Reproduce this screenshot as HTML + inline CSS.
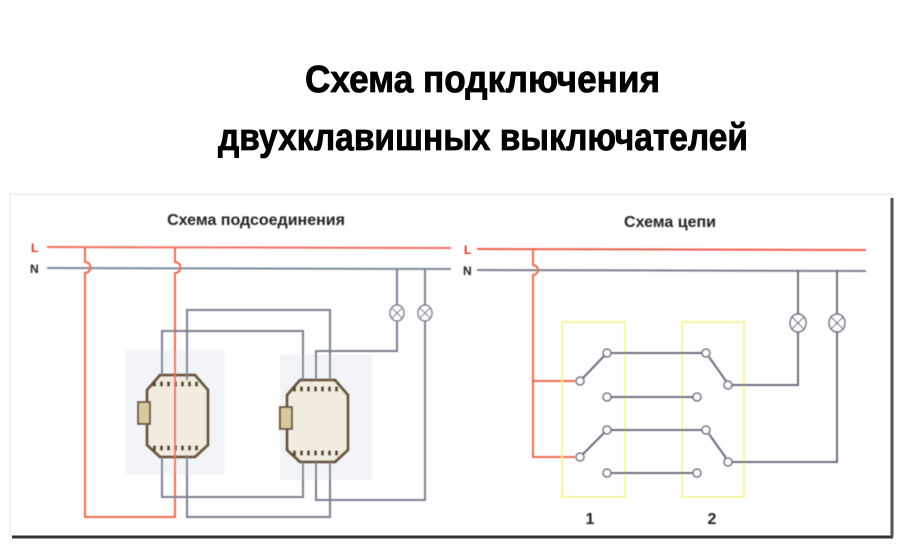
<!DOCTYPE html>
<html><head><meta charset="utf-8"><style>
html,body{margin:0;padding:0;background:#fff;width:900px;height:556px;overflow:hidden}
svg{display:block}
text{font-family:"Liberation Sans",sans-serif;font-weight:bold}
</style></head><body>
<svg width="900" height="556" viewBox="0 0 900 556" xmlns="http://www.w3.org/2000/svg">
<defs>
<filter id="bl" x="-10%" y="-10%" width="120%" height="120%"><feGaussianBlur stdDeviation="0.6"/></filter>
</defs>
<!-- title -->
<text x="305" y="92" font-size="38" textLength="355" lengthAdjust="spacingAndGlyphs" fill="#000" stroke="#000" stroke-width="0.8">Схема подключения</text>
<text x="218" y="150" font-size="38" textLength="530" lengthAdjust="spacingAndGlyphs" fill="#000" stroke="#000" stroke-width="0.8">двухклавишных выключателей</text>

<!-- panel -->
<rect x="10" y="194" width="882" height="342" fill="#fff" stroke="#e4e4e4" stroke-width="1"/>
<line x1="12" y1="537" x2="893" y2="537" stroke="#333" stroke-width="3"/>
<line x1="892" y1="198" x2="892" y2="537" stroke="#555" stroke-width="3"/>

<g filter="url(#bl)">
<!-- LEFT -->
<text x="256" y="225" font-size="16" text-anchor="middle" fill="#222">Схема подсоединения</text>
<text x="31" y="252" font-size="12" fill="#e83020">L</text>
<text x="30" y="273" font-size="12" fill="#222">N</text>
<line x1="47" y1="247" x2="451" y2="248" stroke="#f07060" stroke-width="2"/>
<line x1="47" y1="268" x2="451" y2="269" stroke="#7a8a9a" stroke-width="2"/>

<!-- switch plates -->
<rect x="125" y="350" width="100" height="125" fill="#f3f4f8"/>
<rect x="280" y="355" width="92" height="125" fill="#f3f4f8"/>
<polygon points="160,375 195,375 208,390 208,445 195,457 160,457 147,445 147,390" fill="#f1ebe0" stroke="#6b5536" stroke-width="3"/>
<polygon points="300,380 335,380 348,395 348,450 335,462 300,462 287,450 287,395" fill="#f1ebe0" stroke="#6b5536" stroke-width="3"/>
<g stroke="#5a4528" stroke-width="5" stroke-dasharray="3,4">
<line x1="153" y1="384" x2="202" y2="384"/><line x1="153" y1="448" x2="202" y2="448"/>
<line x1="293" y1="389" x2="342" y2="389"/><line x1="293" y1="453" x2="342" y2="453"/>
</g>
<rect x="138" y="402" width="12" height="22" fill="#d9c9a0" stroke="#6b5536" stroke-width="2"/>
<rect x="280" y="407" width="12" height="22" fill="#d9c9a0" stroke="#6b5536" stroke-width="2"/>

<!-- red wires -->
<path d="M85,247 V262 a5,5 0 0 1 0,11 V517 H175 V273 a5,5 0 0 0 0,-11 V247" fill="none" stroke="#f06a50" stroke-width="2"/>
<!-- gray wires -->
<path d="M187,380 V310 H330 V380 M187,455 V517 H330 V462" fill="none" stroke="#7a8090" stroke-width="2"/>
<path d="M162,375 V331 H303 V380 M162,457 V497 H303 V462" fill="none" stroke="#7a8090" stroke-width="2"/>
<path d="M397,268 V305 M397,321 V351 H316 V380" fill="none" stroke="#7a8090" stroke-width="2"/>
<path d="M425,268 V305 M425,321 V500 H316 V462" fill="none" stroke="#7a8090" stroke-width="2"/>
<g fill="#fff" stroke="#7a8090" stroke-width="1.5">
<ellipse cx="397" cy="313" rx="7" ry="8"/><ellipse cx="425" cy="313" rx="7" ry="8"/>
</g>
<path d="M392,308 l10,10 M402,308 l-10,10 M420,308 l10,10 M430,308 l-10,10" stroke="#7a8090" stroke-width="1.2"/>

<!-- RIGHT -->
<text x="670" y="227" font-size="16" text-anchor="middle" fill="#222">Схема цепи</text>
<text x="464" y="254" font-size="12" fill="#e83020">L</text>
<text x="463" y="275" font-size="12" fill="#222">N</text>
<line x1="477" y1="249" x2="866" y2="250" stroke="#f06050" stroke-width="2"/>
<line x1="477" y1="270" x2="866" y2="271" stroke="#7a8090" stroke-width="2"/>
<path d="M533,249 V265 a5,5 0 0 1 0,10 V457 H575 M533,381 H575" fill="none" stroke="#f06a50" stroke-width="2"/>
<rect x="562" y="322" width="63" height="175" fill="none" stroke="#f4f080" stroke-width="1.5"/>
<rect x="682" y="322" width="62" height="175" fill="none" stroke="#f4f080" stroke-width="1.5"/>
<g stroke="#6a7080" stroke-width="2" fill="none">
<path d="M610,353 H702 M610,397 H693 M610,430 H702 M610,473 H693"/>
<path d="M583,378 L604,356 M583,454 L604,433"/>
<path d="M709,357 L726,381 M709,434 L726,458"/>
<path d="M732,385 H798 V331 M798,315 V270"/>
<path d="M732,462 H837 V331 M837,315 V270"/>
</g>
<g fill="#fff" stroke="#6a7080" stroke-width="1.5">
<circle cx="580" cy="381" r="4"/><circle cx="607" cy="353" r="4"/><circle cx="607" cy="397" r="4"/>
<circle cx="580" cy="457" r="4"/><circle cx="607" cy="430" r="4"/><circle cx="607" cy="473" r="4"/>
<circle cx="706" cy="353" r="4"/><circle cx="697" cy="397" r="4"/><circle cx="728" cy="385" r="4"/>
<circle cx="706" cy="430" r="4"/><circle cx="697" cy="473" r="4"/><circle cx="728" cy="462" r="4"/>
<ellipse cx="798" cy="323" rx="8" ry="9"/><ellipse cx="837" cy="323" rx="8" ry="9"/>
</g>
<path d="M792,317 l12,12 M804,317 l-12,12 M831,317 l12,12 M843,317 l-12,12" stroke="#6a7080" stroke-width="1.2"/>
<text x="590" y="524" font-size="16" text-anchor="middle" fill="#222">1</text>
<text x="712" y="524" font-size="16" text-anchor="middle" fill="#222">2</text>
</g>
</svg>
</body></html>
